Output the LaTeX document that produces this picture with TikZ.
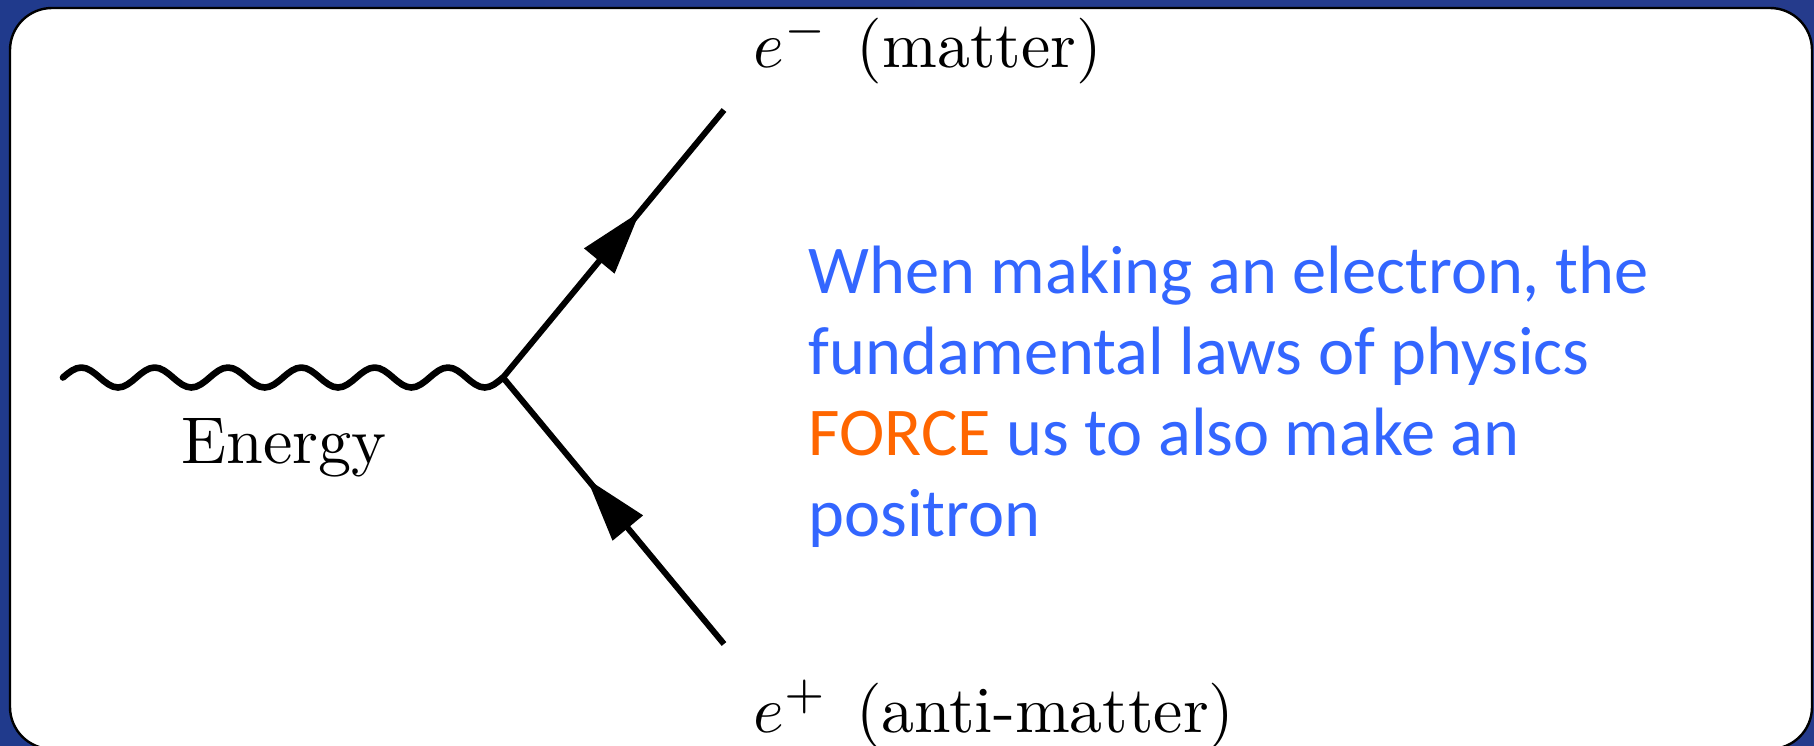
\documentclass[tikz,border=0pt]{standalone}
\usepackage{fontspec}
\newfontfamily\calib{Carlito}
\usetikzlibrary{decorations.markings,arrows.meta}
\definecolor{bgA}{RGB}{32,58,140}
\definecolor{bgB}{RGB}{10,78,158}
\definecolor{bgC}{RGB}{37,59,140}
\definecolor{txtblue}{RGB}{51,102,255}
\definecolor{txtorange}{RGB}{255,102,0}
\tikzset{
  fermion/.style={line width=3pt, postaction={decorate},
    decoration={markings, mark=at position 0.62 with {\arrow{Triangle[length=32pt,width=19pt]}}}},
  photon/.style={line width=3.3pt, line cap=round, line join=round},
  mathlabel/.style={anchor=base west, inner sep=0pt, font=\fontsize{10}{12}\selectfont},
  bluetext/.style={anchor=base west, inner sep=0pt, text=txtblue, font=\calib\fontsize{34.2}{40.65}\selectfont}
}
\begin{document}
\begin{tikzpicture}[x=0.5pt,y=-0.5pt]
\useasboundingbox (0,0) rectangle (1814,745);
\shade[left color=bgA, middle color=bgB, right color=bgC] (0,0) rectangle (1814,745);
\draw[fill=white, line width=1.2pt, rounded corners=21pt] (10,8) rectangle (1812,749);
\coordinate (wstart) at (63,377.5);
\coordinate (v) at (503,377.5);
\coordinate (top) at (724,110);
\coordinate (bot) at (724,644);
\draw[photon] (wstart)
  \foreach \i in {1,...,6} { sin ++(18.3333,-10) cos ++(18.3333,10) sin ++(18.3333,10) cos ++(18.3333,-10) } -- (v);
\draw[fermion] (v) -- (top);
\draw[fermion] (bot) -- (v);
\node[mathlabel] (em) at (753,67) {\scalebox{3.29}{$e^-$\hspace{0.43em}(matter)}};
\node[mathlabel] (ep) at (753,732) {\scalebox{3.29}{$e^+$\hspace{0.43em}(anti-matter)}};
\node[mathlabel] (en) at (181,463) {\scalebox{3.31}{Energy}};
\node[bluetext] (txt) at (808,293) {\begin{tabular}[t]{@{}l@{}}When making an electron, the\\
fundamental laws of physics\\
\textcolor{txtorange}{FORCE} us to also make an\\
positron\end{tabular}};
\end{tikzpicture}
\end{document}
